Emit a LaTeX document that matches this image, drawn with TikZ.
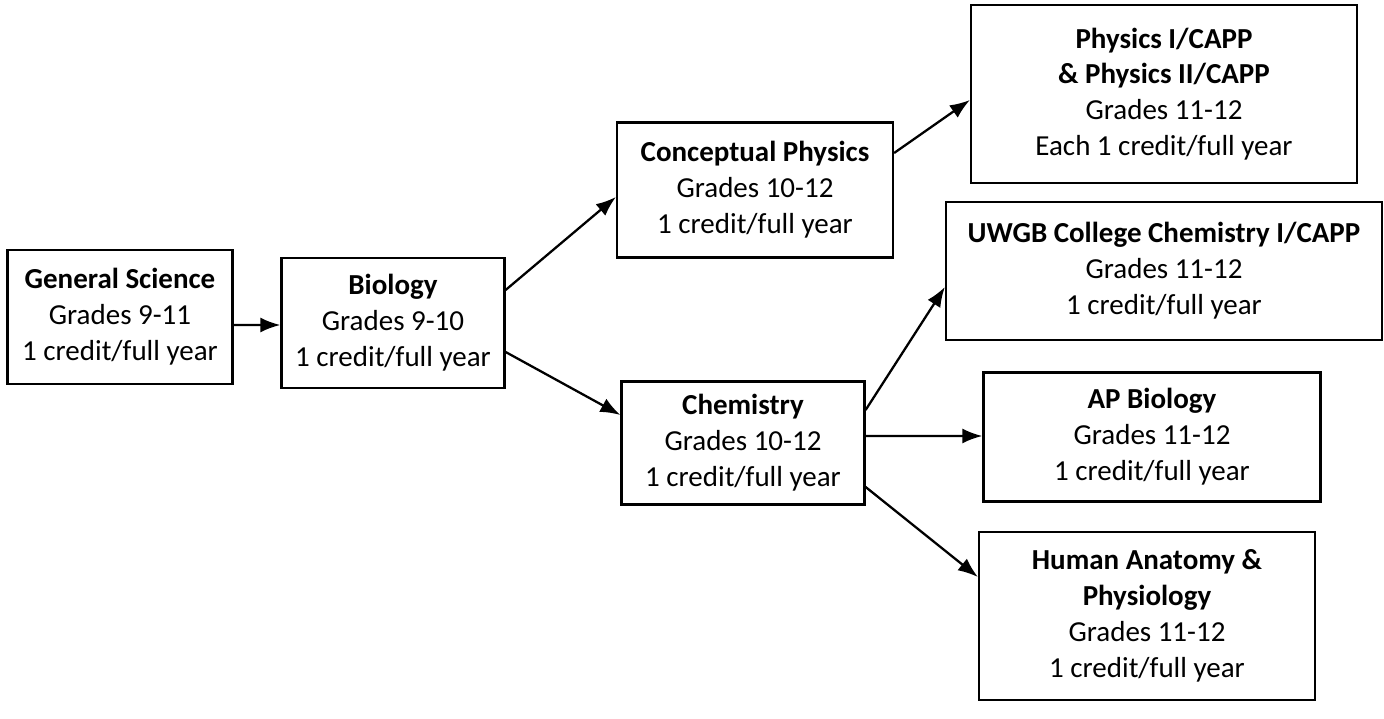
\documentclass[tikz,border=0pt]{standalone}
\usepackage{fontspec}
\setmainfont{Carlito}
\usetikzlibrary{arrows.meta}
\tikzset{
  course/.style={
    rectangle,draw=black,line width=1.3pt,align=center,inner sep=2pt,
    font=\fontsize{16.5}{20.4}\selectfont
  },
  arrow/.style={-{Latex[length=4mm,width=3mm]},line width=1.3pt,draw=black}
}

\begin{document}
\begin{tikzpicture}[x=0.02cm,y=-0.02cm]
    \useasboundingbox (0,0) rectangle (1384,719);

    \node[course,minimum width=4.50cm,minimum height=2.68cm] (gensci) at (120,317)
      {\textbf{General Science}\\Grades 9-11\\1 credit/full year};
    \node[course,minimum width=4.46cm,minimum height=2.60cm] (bio) at (393,323)
      {\textbf{Biology}\\Grades 9-10\\1 credit/full year};
    \node[course,minimum width=5.52cm,minimum height=2.70cm] (concept) at (755,190)
      {\textbf{Conceptual Physics}\\Grades 10-12\\1 credit/full year};
    \node[course,minimum width=4.86cm,minimum height=2.46cm] (chem) at (743,443)
      {\textbf{Chemistry}\\Grades 10-12\\1 credit/full year};
    \node[course,minimum width=7.72cm,minimum height=3.56cm] (physics) at (1164,94)
      {\textbf{Physics I/CAPP}\\\textbf{\& Physics II/CAPP}\\Grades 11-12\\Each 1 credit/full year};
    \node[course,minimum width=8.72cm,minimum height=2.76cm] (uwgb) at (1164,271)
      {\textbf{UWGB College Chemistry I/CAPP}\\Grades 11-12\\1 credit/full year};
    \node[course,minimum width=6.74cm,minimum height=2.58cm] (apbio) at (1152,437)
      {\textbf{AP Biology}\\Grades 11-12\\1 credit/full year};
    \node[course,minimum width=6.72cm,minimum height=3.36cm] (anatomy) at (1147,616)
      {\textbf{Human Anatomy \&}\\\textbf{Physiology}\\Grades 11-12\\1 credit/full year};

    \draw[arrow] ([yshift=-0.16cm]gensci.east) -- ([yshift=-0.04cm]bio.west);
    \draw[arrow] ([yshift=0.66cm]bio.east) -- ([yshift=-0.14cm]concept.west);
    \draw[arrow] ([yshift=-0.58cm]bio.east) -- ([yshift=0.56cm]chem.west);
    \draw[arrow] ([yshift=0.74cm]concept.east) -- ([yshift=-0.12cm]physics.west);
    \draw[arrow] ([yshift=0.66cm]chem.east) -- ([yshift=-0.32cm]uwgb.west);
    \draw[arrow] ([yshift=0.14cm]chem.east) -- ([yshift=0.02cm]apbio.west);
    \draw[arrow] ([yshift=-0.88cm]chem.east) -- ([yshift=0.78cm]anatomy.west);
\end{tikzpicture}
\end{document}
